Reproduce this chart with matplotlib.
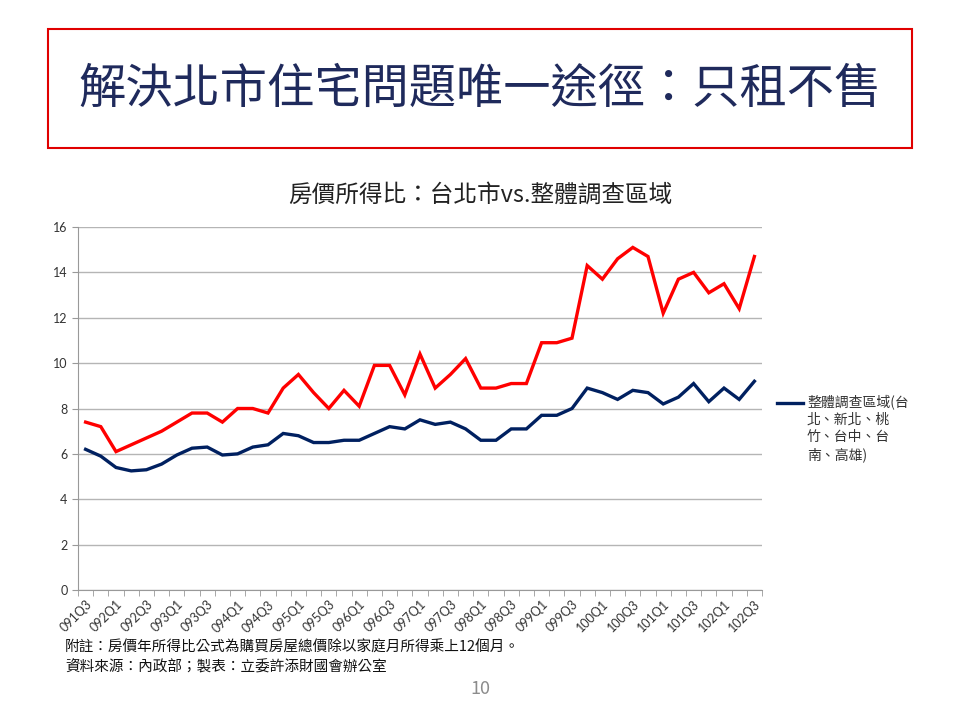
import matplotlib
matplotlib.use("Agg")
import matplotlib.pyplot as plt
from matplotlib.lines import Line2D
from matplotlib.patches import Rectangle

plt.rcParams['font.family'] = ['Noto Sans CJK TC', 'DejaVu Sans']

# quarters (ROC calendar)
quarters = ["091Q3", "091Q4",
            "092Q1", "092Q2", "092Q3", "092Q4",
            "093Q1", "093Q2", "093Q3", "093Q4",
            "094Q1", "094Q2", "094Q3", "094Q4",
            "095Q1", "095Q2", "095Q3", "095Q4",
            "096Q1", "096Q2", "096Q3", "096Q4",
            "097Q1", "097Q2", "097Q3", "097Q4",
            "098Q1", "098Q2", "098Q3", "098Q4",
            "099Q1", "099Q2", "099Q3", "099Q4",
            "100Q1", "100Q2", "100Q3", "100Q4",
            "101Q1", "101Q2", "101Q3", "101Q4",
            "102Q1", "102Q2", "102Q3"]

# 台北市
taipei = [7.4, 7.2, 6.1, 6.4, 6.7, 7.0, 7.4, 7.8, 7.8, 7.4,
          8.0, 8.0, 7.8, 8.9, 9.5, 8.7, 8.0, 8.8, 8.1, 9.9,
          9.9, 8.6, 10.4, 8.9, 9.5, 10.2, 8.9, 8.9, 9.1, 9.1,
          10.9, 10.9, 11.1, 14.3, 13.7, 14.6, 15.1, 14.7, 12.2, 13.7,
          14.0, 13.1, 13.5, 12.4, 14.7]

# 整體調查區域
overall = [6.2, 5.9, 5.4, 5.25, 5.3, 5.55, 5.95, 6.25, 6.3, 5.95,
           6.0, 6.3, 6.4, 6.9, 6.8, 6.5, 6.5, 6.6, 6.6, 6.9,
           7.2, 7.1, 7.5, 7.3, 7.4, 7.1, 6.6, 6.6, 7.1, 7.1,
           7.7, 7.7, 8.0, 8.9, 8.7, 8.4, 8.8, 8.7, 8.2, 8.5,
           9.1, 8.3, 8.9, 8.4, 9.2]

overall_label = "整體調查區域(台\n北、新北、桃\n竹、台中、台\n南、高雄)"
yticks = [0, 2, 4, 6, 8, 10, 12, 14, 16]

red = "#FF0000"
navy = "#002060"

fig = plt.figure(figsize=(9.6, 7.2), dpi=100)

# slide title with red frame
fig.add_artist(Rectangle((48 / 960, 1 - 148 / 720), 864 / 960, 119 / 720,
                         transform=fig.transFigure, fill=False,
                         edgecolor="#E00000", linewidth=1.5))
fig.text(0.5, 1 - 90 / 720, "解決北市住宅問題唯一途徑：只租不售",
         ha="center", va="center", fontsize=34, color="#1F2A5C", fontweight="light")

# chart title
fig.text(0.5, 1 - 195 / 720, "房價所得比：台北市vs.整體調查區域",
         ha="center", va="center", fontsize=17, color="#222222")

ax = fig.add_axes([78 / 960, 130 / 720, 684 / 960, 363 / 720])
x = list(range(len(quarters)))
ax.plot(x, taipei, color=red, linewidth=2.4, solid_joinstyle="miter")
ax.plot(x, overall, color=navy, linewidth=2.4, solid_joinstyle="miter")

ax.set_xlim(-0.5, len(quarters) - 0.5)
ax.set_ylim(0, 16)
ax.set_yticks(yticks)
ax.set_yticklabels([str(v) for v in yticks], family="Lato", fontsize=9, color="#333333")
ax.yaxis.grid(True, color="#B5B5B5", linewidth=1)
ax.set_axisbelow(True)

ax.set_xticks(x[::2])
ax.set_xticklabels(quarters[::2], rotation=45, ha="right", va="top",
                   rotation_mode="anchor", family="Lato", fontsize=9, color="#333333")
ax.tick_params(axis="x", which="major", length=0, pad=6)
ax.set_xticks([i - 0.5 for i in range(len(quarters) + 1)], minor=True)
ax.tick_params(axis="x", which="minor", length=4, color="#999999", direction="out")
ax.tick_params(axis="y", length=4, color="#999999", direction="out")

for side in ["top", "right"]:
    ax.spines[side].set_visible(False)
for side in ["left", "bottom"]:
    ax.spines[side].set_color("#999999")

# legend (navy series only)
fig.add_artist(Line2D([777 / 960, 803 / 960], [1 - 403 / 720, 1 - 403 / 720],
                      transform=fig.transFigure, color=navy, linewidth=2.4))
fig.text(807 / 960, 1 - 394 / 720, overall_label, ha="left", va="top",
         fontsize=10, color="#333333", linespacing=1.3)

# notes
fig.text(65 / 960, 1 - 648 / 720, "附註：房價年所得比公式為購買房屋總價除以家庭月所得乘上12個月。",
         ha="left", va="center", fontsize=10.5, color="#111111")
fig.text(65 / 960, 1 - 667 / 720, "資料來源：內政部；製表：立委許添財國會辦公室",
         ha="left", va="center", fontsize=10.5, color="#111111")
fig.text(0.5, 1 - 689 / 720, "10", ha="center", va="center", fontsize=13, color="#8C8C8C")

plt.savefig("out.png", dpi=100)
